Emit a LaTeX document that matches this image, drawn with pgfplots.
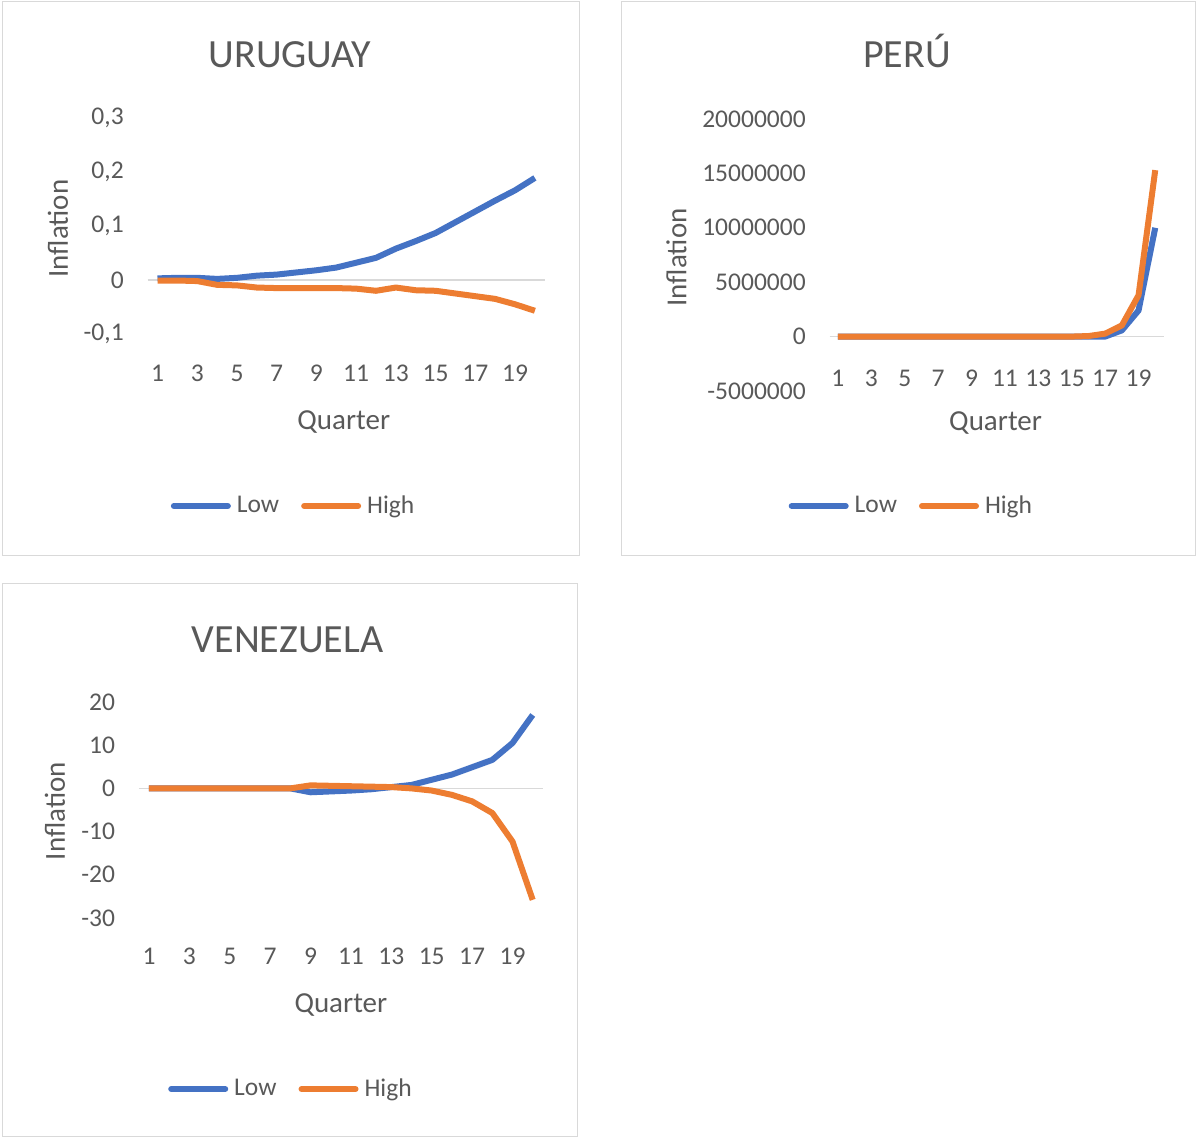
\documentclass[border=0pt]{standalone}
\usepackage{fontspec}
\setmainfont{Carlito}
\usepackage{pgfplots}
\pgfplotsset{compat=1.18}
\definecolor{lowc}{HTML}{4472C4}
\definecolor{highc}{HTML}{ED7D31}
\definecolor{txt}{HTML}{595959}
\definecolor{frame}{HTML}{D9D9D9}

\pgfplotsset{
  excel/.style={
    scale only axis,
    anchor=south west,
    xmin=0.5, xmax=20.5,
    xtick={1,3,...,19},
    xticklabels={1,3,5,7,9,11,13,15,17,19},
    axis line style={draw=none},
    major tick length=0pt,
    tick style={draw=none},
    ticklabel style={font=\fontsize{12.75}{15}\selectfont, text=txt, inner sep=0pt},
    yticklabel style={anchor=east, xshift=-11.75pt},
    xticklabel style={anchor=center},
    scaled y ticks=false,
    extra y ticks={0}, extra y tick labels={},
    extra y tick style={grid=major, major grid style={draw=frame, line width=0.75pt}},
    label style={font=\fontsize{14.5}{17}\selectfont, text=txt},
    xlabel={Quarter}, ylabel={Inflation},
    % the default title style is shifted up by 6pt; cancel it
    title style={font=\fontsize{20}{24}\selectfont, text=txt, anchor=base, yshift=-6pt},
    legend columns=2,
    legend style={draw=none, fill=none, inner sep=0pt, anchor=center,
      font=\fontsize{12.75}{15}\selectfont, text=txt, nodes={inner sep=0pt},
      /tikz/every odd column/.append style={column sep=3pt},
      /tikz/every even column/.append style={column sep=11pt}},
    legend image code/.code={\draw[line width=3pt, line cap=round] (1.5pt,0pt) -- (28.5pt,0pt);},
    every axis plot/.append style={line width=3pt, line join=round, no markers},
  },
}

\begin{document}
\begin{tikzpicture}
\path (0pt,0pt) rectangle (598pt,569.5pt);
\draw[frame, line width=0.5pt] (1pt,568.5pt) rectangle (289.5pt,291.5pt);
\draw[frame, line width=0.5pt] (310.5pt,568.5pt) rectangle (597.5pt,291.5pt);
\draw[frame, line width=0.5pt] (1pt,277.5pt) rectangle (288.5pt,1pt);

% URUGUAY
\begin{axis}[excel, at={(73.8pt,402.5pt)}, width=198.6pt, height=108pt,
  ymin=-0.1, ymax=0.3,
  ytick={-0.1,0,0.1,0.2,0.3}, yticklabels={{-0,1},0,{0,1},{0,2},{0,3}},
  xticklabel style={yshift=-19.5pt},
  title={URUGUAY}, title style={at={(axis description cs:0.3585,1.236)}},
  xlabel style={at={(axis description cs:0.494,-0.407)}, anchor=center},
  ylabel style={at={(axis description cs:-0.2256,0.488)}, anchor=center},
  legend style={at={(axis description cs:0.365,-0.796)}}]
\addplot[lowc] coordinates {(1,0.003) (2,0.004) (3,0.004) (4,0.002) (5,0.004) (6,0.008) (7,0.010) (8,0.014) (9,0.018) (10,0.023) (11,0.032) (12,0.041) (13,0.058) (14,0.072) (15,0.087) (16,0.107) (17,0.127) (18,0.147) (19,0.166) (20,0.189)};
\addlegendentry{Low}
\addplot[highc] coordinates {(1,-0.001) (2,-0.001) (3,-0.002) (4,-0.009) (5,-0.010) (6,-0.014) (7,-0.015) (8,-0.015) (9,-0.015) (10,-0.015) (11,-0.016) (12,-0.020) (13,-0.014) (14,-0.019) (15,-0.020) (16,-0.025) (17,-0.030) (18,-0.035) (19,-0.045) (20,-0.057)};
\addlegendentry{High}
\end{axis}

% PERU
\begin{axis}[excel, at={(414.8pt,374pt)}, width=167pt, height=136pt,
  ymin=-5000000, ymax=20000000,
  ytick={-5000000,0,5000000,10000000,15000000,20000000},
  yticklabels={-5000000,0,5000000,10000000,15000000,20000000},
  xticklabel style={yshift=6.25pt},
  title={PERÚ}, title style={at={(axis description cs:0.2316,1.191)}},
  xlabel style={at={(axis description cs:0.497,-0.118)}, anchor=center},
  ylabel style={at={(axis description cs:-0.4585,0.491)}, anchor=center},
  legend style={at={(axis description cs:0.242,-0.423)}}]
\addplot[lowc] coordinates {(1,0) (2,0) (3,0) (4,0) (5,0) (6,0) (7,0) (8,0) (9,0) (10,0) (11,0) (12,0) (13,0) (14,0) (15,0) (16,0) (17,0) (18,570000) (19,2400000) (20,10000000)};
\addlegendentry{Low}
\addplot[highc] coordinates {(1,0) (2,0) (3,0) (4,0) (5,0) (6,0) (7,0) (8,0) (9,0) (10,0) (11,0) (12,0) (13,0) (14,0) (15,0) (16,50000) (17,270000) (18,1030000) (19,3800000) (20,15300000)};
\addlegendentry{High}
\end{axis}

% VENEZUELA
\begin{axis}[excel, at={(69.45pt,110.5pt)}, width=201.95pt, height=108pt,
  ymin=-30, ymax=20,
  ytick={-30,-20,-10,0,10,20}, yticklabels={-30,-20,-10,0,10,20},
  xticklabel style={yshift=-19pt},
  title={VENEZUELA}, title style={at={(axis description cs:0.368,1.231)}},
  xlabel style={at={(axis description cs:0.5,-0.403)}, anchor=center},
  ylabel style={at={(axis description cs:-0.2077,0.495)}, anchor=center},
  legend style={at={(axis description cs:0.374,-0.792)}}]
\addplot[lowc] coordinates {(1,0) (2,0) (3,0) (4,0) (5,0) (6,0) (7,0) (8,0) (9,-0.9) (10,-0.7) (11,-0.5) (12,-0.2) (13,0.3) (14,0.8) (15,2.0) (16,3.2) (17,4.9) (18,6.6) (19,10.5) (20,17.0)};
\addlegendentry{Low}
\addplot[highc] coordinates {(1,0) (2,0) (3,0) (4,0) (5,0) (6,0) (7,0) (8,0) (9,0.7) (10,0.6) (11,0.5) (12,0.4) (13,0.3) (14,0) (15,-0.5) (16,-1.5) (17,-3.0) (18,-5.7) (19,-12.3) (20,-25.8)};
\addlegendentry{High}
\end{axis}
\end{tikzpicture}
\end{document}
